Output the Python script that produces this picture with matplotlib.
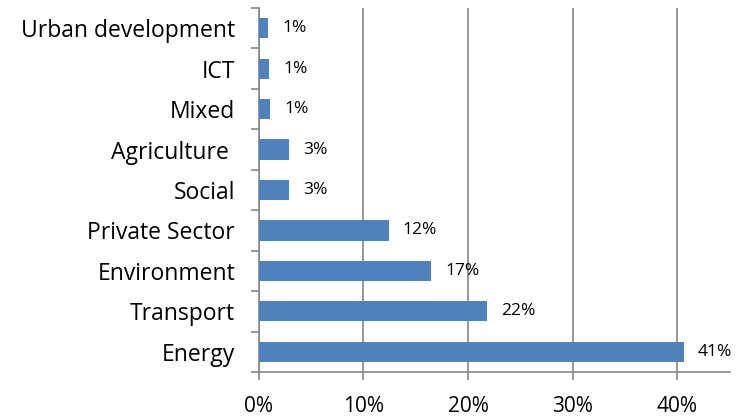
import matplotlib
matplotlib.use('Agg')
import matplotlib.pyplot as plt
from matplotlib.ticker import PercentFormatter, FixedLocator

plt.rcParams['font.family'] = ['Open Sans', 'DejaVu Sans']

# Data (top to bottom as shown)
categories = ['Urban development', 'ICT', 'Mixed', 'Agriculture ', 'Social',
              'Private Sector', 'Environment', 'Transport', 'Energy']
shares = [0.9, 1.0, 1.1, 2.9, 2.9, 12.4, 16.5, 21.8, 40.6]
value_labels = ['1%', '1%', '1%', '3%', '3%', '12%', '17%', '22%', '41%']

bar_color = '#4F81BD'
axis_gray = '#868686'

fig = plt.figure(figsize=(7.5, 4.18), dpi=100)
ax = fig.add_axes([0.345, 0.110, 0.628, 0.871])

ypos = list(range(len(categories)))[::-1]
ax.barh(ypos, shares, height=0.5, color=bar_color, zorder=3)

for y, v, lab in zip(ypos, shares, value_labels):
    ax.annotate(lab, (v, y), xytext=(10, 0), textcoords='offset points',
                va='center', ha='left', fontsize=12.5, color='black')

ax.set_xlim(0, 45)
ax.set_ylim(-0.5, len(categories) - 0.5)
ax.xaxis.set_major_locator(FixedLocator([0, 10, 20, 30, 40]))
ax.xaxis.set_major_formatter(PercentFormatter(decimals=0))
ax.grid(axis='x', color=axis_gray, linewidth=1.2, zorder=0)

# category labels at bar centres, tick marks at category boundaries
ax.set_yticks(ypos)
ax.set_yticklabels(categories)
ax.tick_params(axis='y', length=0, labelsize=16.5, pad=17)
ax.set_yticks([i - 0.5 for i in range(len(categories) + 1)], minor=True)
ax.tick_params(axis='y', which='minor', length=6, width=1.2, color=axis_gray)
ax.tick_params(axis='x', length=6, width=1.2, color=axis_gray, labelsize=15, pad=11)

for s in ['top', 'right']:
    ax.spines[s].set_visible(False)
for s in ['left', 'bottom']:
    ax.spines[s].set_color(axis_gray)
    ax.spines[s].set_linewidth(1.2)

fig.savefig('out.png', dpi=100)
